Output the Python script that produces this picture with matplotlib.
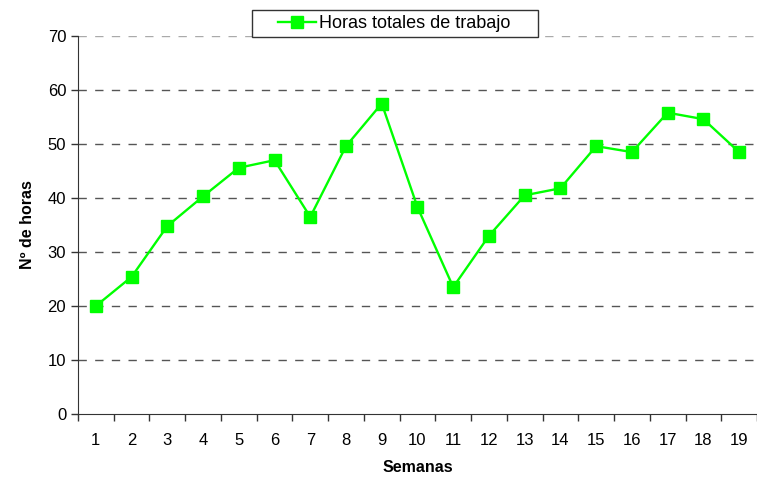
import matplotlib
matplotlib.use('Agg')
import matplotlib.pyplot as plt
from matplotlib.patches import Rectangle
import numpy as np

# Datos: horas totales de trabajo por semana
semanas = list(range(1, 20))
horas = [20.0, 25.4, 34.8, 40.3, 45.6, 47.0, 36.5, 49.6, 57.5, 38.3,
         23.5, 33.0, 40.5, 41.8, 49.6, 48.5, 55.8, 54.6, 48.5]
y_ticks = [0, 10, 20, 30, 40, 50, 60, 70]

plt.rcParams['font.family'] = ['Liberation Sans', 'DejaVu Sans']

fig = plt.figure(figsize=(7.57, 4.8), dpi=100)
ax = fig.add_axes([0.103, 0.1375, 0.897, 0.7875])

ax.plot(semanas, horas, color='#00ff00', linewidth=1.7, marker='s',
        markersize=8.5, label='Horas totales de trabajo', zorder=3)

ax.set_xlim(0.5, len(semanas) + 0.5)
ax.set_ylim(0, 70)
ax.set_yticks(y_ticks)
ax.set_xticks(semanas)
ax.set_xticks(np.arange(0.5, len(semanas) + 1, 1), minor=True)
ax.tick_params(axis='x', which='major', length=0, pad=14, labelsize=12)
ax.tick_params(axis='x', which='minor', length=5, width=1, color='#333333')
ax.tick_params(axis='y', length=5, width=1, color='#333333', labelsize=12)

for y in y_ticks[1:]:
    ax.axhline(y, color='#555555' if y < 70 else '#aaaaaa', linewidth=1,
               linestyle=(0, (6, 6)), zorder=1)

ax.spines['top'].set_visible(False)
ax.spines['right'].set_visible(False)
ax.spines['left'].set_color('#333333')
ax.spines['bottom'].set_color('#333333')

ax.set_xlabel('Semanas', fontsize=11.5, fontweight='bold', labelpad=8)
ax.set_ylabel('Nº de horas', fontsize=11.5, fontweight='bold', labelpad=9)

# leyenda con marco dibujado aparte (más ancho que el contenido)
leg = fig.legend(loc='center', bbox_to_anchor=(0.521, 0.951), fontsize=13,
                 frameon=False, handlelength=2.1, handletextpad=0.2)
frame = Rectangle((0.333, 0.923), 0.378, 0.056, transform=fig.transFigure,
                  facecolor='white', edgecolor='#333333', linewidth=1, zorder=0)
fig.patches.append(frame)

fig.savefig('out.png', dpi=100)
